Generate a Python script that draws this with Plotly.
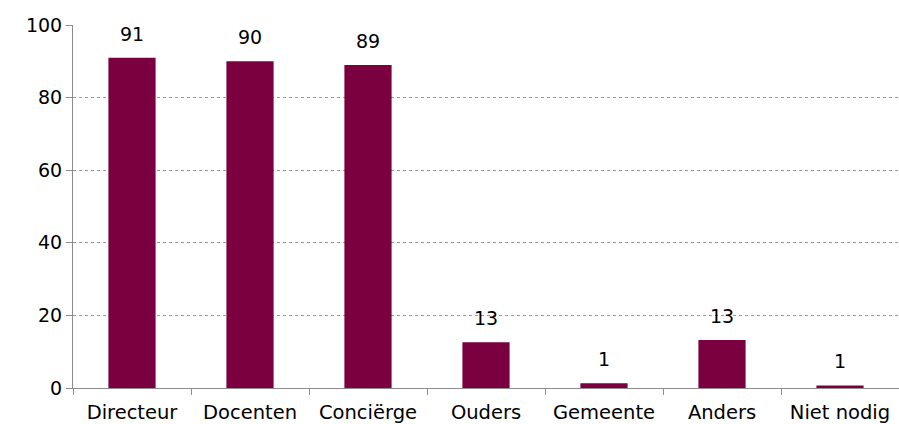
import plotly.graph_objects as go

categories = ["Directeur", "Docenten", "Conciërge", "Ouders", "Gemeente", "Anders", "Niet nodig"]
values = [91, 90, 89, 12.6, 1.3, 13.2, 0.7]
labels = ["91", "90", "89", "13", "1", "13", "1"]

BAR_COLOR = "#7B003F"
FONT = "DejaVu Sans"

fig = go.Figure()
fig.add_trace(go.Bar(
    x=categories,
    y=values,
    marker=dict(color=BAR_COLOR, line=dict(width=0)),
    width=0.4,
    hoverinfo="x+y",
))

for c, v, t in zip(categories, values, labels):
    fig.add_annotation(x=c, y=v, text=t, showarrow=False,
                       yshift=24, font=dict(family=FONT, size=19, color="#000"))

fig.update_layout(
    width=899,
    height=424,
    margin=dict(l=73, r=0, t=25, b=36),
    plot_bgcolor="white",
    paper_bgcolor="white",
    showlegend=False,
    font=dict(family=FONT, size=19, color="#000"),
    xaxis=dict(
        showline=True,
        linecolor="#8c8c8c",
        linewidth=1,
        ticks="outside",
        tickson="boundaries",
        ticklen=6,
        tickcolor="#8c8c8c",
        showgrid=False,
        ticklabelstandoff=7,
        tickfont=dict(family=FONT, size=19.5),
    ),
    yaxis=dict(
        range=[0, 100],
        dtick=20,
        showline=True,
        linecolor="#8c8c8c",
        linewidth=1,
        ticks="outside",
        ticklen=6,
        tickcolor="#8c8c8c",
        showgrid=True,
        gridcolor="#999999",
        griddash="dot",
        gridwidth=1,
        zeroline=False,
        tickfont=dict(family=FONT, size=19),
    ),
)

# page has a default body margin; drop it so the figure sits at the window corner
fig.write_html("out.html", config={"displayModeBar": False},
               post_script="document.body.style.margin='0';")
